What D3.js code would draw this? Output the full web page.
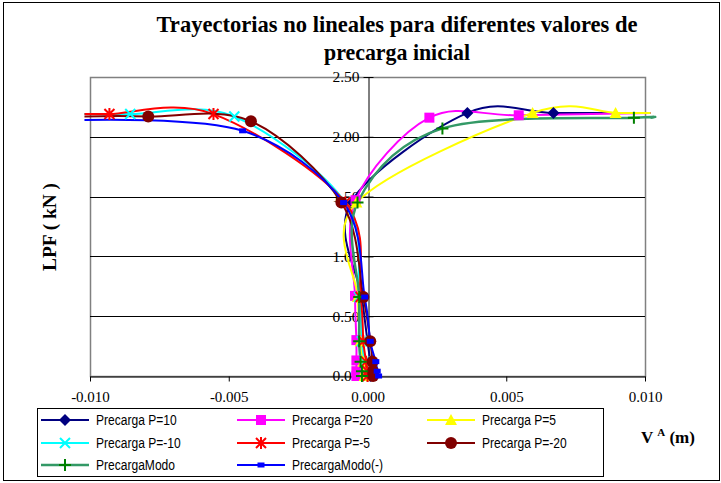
<!DOCTYPE html>
<html><head><meta charset="utf-8">
<script src="https://cdn.jsdelivr.net/npm/d3@7"></script>
<style>body{margin:0;background:#fff} text{font-kerning:normal}</style></head>
<body><svg id="c" width="721" height="483" xmlns="http://www.w3.org/2000/svg"></svg>
<script>
// ---------- data ----------
const seriesNames = ["Precarga P=10","Precarga P=20","Precarga P=5","Precarga P=-10","Precarga P=-5","Precarga P=-20","PrecargaModo","PrecargaModo(-)"];
const seriesColors = ["#000080","#FF00FF","#FFFF00","#00FFFF","#FF0000","#800000","#339966","#0000FF"];
const markerColors = ["#000080","#FF00FF","#FFFF00","#00FFFF","#FF0000","#800000","#008000","#0000FF"];
const markerTypes = ["diamond","square","triangle","x","star","circle","plus","smallsquare"];

const p10_V   = [0.0001, 0.0001, 0.0001, 0.0000, -0.0002, -0.0006, 0.0036, 0.0067, 0.0102];
const p10_LPF = [0.00, 0.04, 0.12, 0.29, 0.66, 1.45, 2.20, 2.20, 2.20];
const p20_V   = [-0.0004, -0.0004, -0.0004, -0.0004, -0.00045, -0.00043, 0.00223, 0.00545, 0.0102];
const p20_LPF = [0.00, 0.04, 0.13, 0.30, 0.67, 1.47, 2.16, 2.18, 2.20];
const p5_V    = [-0.0001, -0.0001, -0.00015, -0.00025, -0.00035, -0.0004, 0.00595, 0.00894, 0.0102];
const p5_LPF  = [0.00, 0.04, 0.12, 0.29, 0.66, 1.45, 2.20, 2.20, 2.20];
const pm10_V  = [0.0000, 0.0000, -0.0001, -0.0002, -0.0003, -0.0008, -0.0048, -0.00855, -0.0102];
const pm10_LPF= [0.00, 0.04, 0.12, 0.29, 0.66, 1.45, 2.17, 2.19, 2.19];
const pm5_V   = [0.0000, 0.0000, -0.00005, -0.00015, -0.00025, -0.0008, -0.00555, -0.0093, -0.0102];
const pm5_LPF = [0.00, 0.04, 0.12, 0.29, 0.66, 1.45, 2.19, 2.19, 2.19];
const pm20_V  = [0.0002, 0.0002, 0.00018, 0.0001, -0.00015, -0.00094, -0.0042, -0.0079, -0.0102];
const pm20_LPF= [0.00, 0.04, 0.12, 0.29, 0.66, 1.45, 2.13, 2.17, 2.17];
const modo_V  = [-0.0002, -0.0002, -0.00025, -0.0003, -0.0003, -0.00036, 0.0027, 0.0096, 0.0102];
const modo_LPF= [0.00, 0.04, 0.12, 0.29, 0.66, 1.45, 2.07, 2.16, 2.16];
const modon_V = [0.0004, 0.00035, 0.0003, 0.0001, -0.0001, -0.00086, -0.0045, -0.0102];
const modon_LPF=[0.00, 0.04, 0.12, 0.29, 0.66, 1.45, 2.05, 2.14];

const xTicks = [-0.010, -0.005, 0.000, 0.005, 0.010];
const yTicks = [0.00, 0.50, 1.00, 1.50, 2.00, 2.50];
const titleLines = ["Trayectorias no lineales para diferentes valores de", "precarga inicial"];

const allV = [p10_V, p20_V, p5_V, pm10_V, pm5_V, pm20_V, modo_V, modon_V];
const allL = [p10_LPF, p20_LPF, p5_LPF, pm10_LPF, pm5_LPF, pm20_LPF, modo_LPF, modon_LPF];

// ---------- drawing ----------
const svg = d3.select("#c");
const serif = "'Liberation Serif','Times New Roman',serif";
const sans = "'Liberation Sans',Arial,sans-serif";

svg.append("rect").attr("x",3.5).attr("y",2.5).attr("width",716).attr("height",478)
  .attr("fill","#fff").attr("stroke","#000").attr("stroke-width",1);

const x = d3.scaleLinear().domain([-0.01, 0.01]).range([90, 645]);
const y = d3.scaleLinear().domain([0, 2.5]).range([376, 77]);

// title
titleLines.forEach((t,i)=>{
  svg.append("text").attr("x",397).attr("y",[32,60][i]).attr("text-anchor","middle")
    .attr("font-family",serif).attr("font-weight","bold").attr("font-size",24)
    .attr("textLength",[481,146][i]).attr("lengthAdjust","spacingAndGlyphs").text(t);
});

// plot area border
svg.append("rect").attr("x",x(-0.01)+0.5).attr("y",y(2.5)+0.5)
  .attr("width",x(0.01)-x(-0.01)).attr("height",y(0)-y(2.5))
  .attr("fill","none").attr("stroke","#808080").attr("stroke-width",1.5);

// gridlines
svg.append("g").selectAll("line").data(yTicks.filter(d=>d>0 && d<2.5)).join("line")
  .attr("x1",x(-0.01)).attr("x2",x(0.01)).attr("y1",d=>Math.round(y(d))+0.5).attr("y2",d=>Math.round(y(d))+0.5)
  .attr("stroke","#000").attr("stroke-width",1);

// x axis (crosses at LPF = 0)
const xAxis = svg.append("g").attr("transform",`translate(0,${Math.round(y(0))+0.5})`)
  .call(d3.axisBottom(x).tickValues(xTicks).tickSizeInner(5).tickSizeOuter(0).tickPadding(10)
    .tickFormat(d=>d.toFixed(3)));
xAxis.select(".domain").attr("stroke","#000");
xAxis.selectAll("text").attr("font-family",serif).attr("font-size",15).attr("fill","#000");

// y axis (crosses at V = 0)
const yAxis = svg.append("g").attr("transform",`translate(${Math.round(x(0))+0.5},0)`)
  .call(d3.axisLeft(y).tickValues(yTicks).tickSizeInner(5).tickSizeOuter(0).tickPadding(4)
    .tickFormat(d=>d.toFixed(2)));
yAxis.select(".domain").attr("stroke","#000");
yAxis.selectAll(".tick line").attr("x1",5);
yAxis.selectAll("text").attr("font-family",serif).attr("font-size",15.5).attr("fill","#000");

// axis titles
svg.append("text").attr("transform","translate(56,227) rotate(-90)").attr("text-anchor","middle")
  .attr("font-family",serif).attr("font-weight","bold").attr("font-size",18)
  .attr("textLength",88).attr("lengthAdjust","spacingAndGlyphs").text("LPF ( kN )");
const vt = svg.append("text").attr("x",641).attr("y",443)
  .attr("font-family",serif).attr("font-weight","bold").attr("font-size",17);
vt.append("tspan").text("V ");
vt.append("tspan").attr("font-size",11).attr("dy",-7).text("A");
vt.append("tspan").attr("dy",7).text(" (m)");

// series
const line = d3.line().x(d=>x(d[0])).y(d=>y(d[1])).curve(d3.curveCatmullRom.alpha(0));

function drawMarker(g, type, color, cx, cy){
  const s = g.append("g").attr("transform",`translate(${cx},${cy})`);
  switch(type){
    case "diamond": s.append("path").attr("d","M0,-6L6,0L0,6L-6,0Z").attr("fill",color); break;
    case "square": s.append("rect").attr("x",-5).attr("y",-5).attr("width",10).attr("height",10).attr("fill",color); break;
    case "triangle": s.append("path").attr("d","M0,-6L6,5L-6,5Z").attr("fill",color); break;
    case "x": s.append("path").attr("d","M-5,-5L5,5M-5,5L5,-5").attr("stroke",color).attr("stroke-width",2); break;
    case "star": s.append("path").attr("d","M-5,-5L5,5M-5,5L5,-5M0,-6L0,6").attr("stroke",color).attr("stroke-width",2); break;
    case "circle": s.append("circle").attr("r",6).attr("fill",color); break;
    case "plus": s.append("path").attr("d","M-6,0L6,0M0,-6L0,6").attr("stroke",color).attr("stroke-width",2); break;
    case "smallsquare": s.append("rect").attr("x",-3.5).attr("y",-2.5).attr("width",7).attr("height",5).attr("fill",color); break;
  }
}

const lines = svg.append("g");
const marks = svg.append("g");
seriesNames.forEach((n,i)=>{
  const pts = allV[i].map((v,j)=>[v, allL[i][j]]);
  lines.append("path").datum(pts).attr("d",line).attr("fill","none")
    .attr("stroke",seriesColors[i]).attr("stroke-width",i===6?2.5:2).attr("stroke-linejoin","round");
  pts.filter(p=>p[0]>=-0.0100001 && p[0]<=0.0100001)
    .forEach(p=>drawMarker(marks, markerTypes[i], markerColors[i], x(p[0]), y(p[1])));
});

// legend
svg.append("rect").attr("x",37.5).attr("y",408.5).attr("width",566).attr("height",68)
  .attr("fill","#fff").attr("stroke","#000").attr("stroke-width",1);
const colX = [41, 237, 427];
const rowY = [420, 443, 465];
seriesNames.forEach((n,i)=>{
  const cx = colX[i%3], cy = rowY[Math.floor(i/3)];
  svg.append("line").attr("x1",cx).attr("x2",cx+48).attr("y1",cy).attr("y2",cy)
    .attr("stroke",seriesColors[i]).attr("stroke-width",i===6?2.5:2);
  drawMarker(svg, markerTypes[i], markerColors[i], cx+24, cy);
  const t = svg.append("text").attr("x",cx+55).attr("y",cy+5).attr("font-family",sans).attr("font-size",14)
    .attr("fill","#000").text(n);
  const w = t.node().getComputedTextLength();
  t.attr("textLength", w*0.86).attr("lengthAdjust","spacingAndGlyphs");
});
</script>
</body></html>
